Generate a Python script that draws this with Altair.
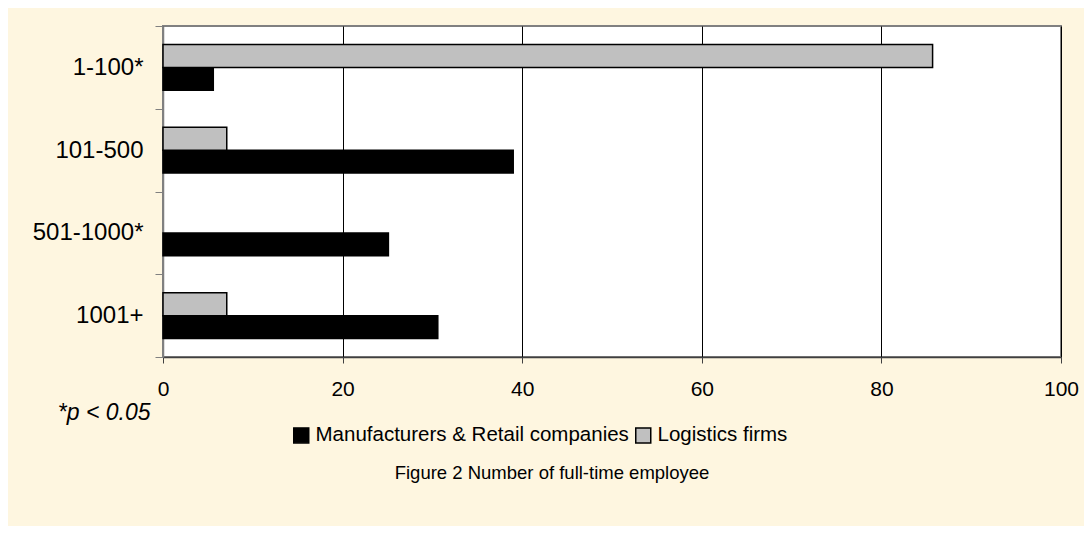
import altair as alt
import pandas as pd

categories = ["1-100*", "101-500", "501-1000*", "1001+"]
series = ["Manufacturers & Retail companies", "Logistics firms"]
manufacturers = [5.6, 39.0, 25.1, 30.6]
logistics = [85.7, 7.1, 0.0, 7.1]
x_ticks = [0, 20, 40, 60, 80, 100]

rows = []
for c, m, l in zip(categories, manufacturers, logistics):
    rows.append({"category": c, "series": series[0], "value": m})
    rows.append({"category": c, "series": series[1], "value": l})
df = pd.DataFrame(rows)

FONT = "Liberation Sans"

chart = (
    alt.Chart(df)
    .transform_filter("datum.value > 0")
    .mark_bar(stroke="black", strokeWidth=1.5)
    .encode(
        x=alt.X(
            "value:Q",
            scale=alt.Scale(domain=[0, 100], nice=False),
            axis=alt.Axis(
                values=x_ticks,
                title="*p < 0.05",
                titleFont=FONT,
                titleFontSize=23,
                titleFontStyle="italic",
                titleFontWeight="normal",
                titleColor="black",
                titleAlign="right",
                titleBaseline="middle",
                titleX=-13,
                titleY=55,
                labelFont=FONT,
                labelFontSize=21,
                labelColor="black",
                labelPadding=15,
                labelFlush=False,
                tickSize=6,
                tickColor="#404040",
                domainColor="#404040",
                domainWidth=1.5,
                grid=True,
                gridColor="black",
                gridWidth=1,
                gridOpacity=1,
            ),
        ),
        y=alt.Y(
            "category:N",
            sort=categories,
            scale=alt.Scale(paddingInner=0, paddingOuter=0),
            axis=alt.Axis(
                title=None,
                labelFont=FONT,
                labelFontSize=24,
                labelColor="black",
                labelPadding=12,
                tickBand="extent",
                tickSize=8,
                tickColor="#808080",
                domainColor="#808080",
                domainWidth=1.5,
                grid=False,
            ),
        ),
        yOffset=alt.YOffset(
            "series:N",
            sort=[series[1], series[0]],
            scale=alt.Scale(paddingInner=0, paddingOuter=0.8),
        ),
        color=alt.Color(
            "series:N",
            scale=alt.Scale(domain=series, range=["#000000", "#C0C0C0"]),
            legend=alt.Legend(
                title=None,
                orient="none",
                direction="horizontal",
                legendX=128,
                legendY=399,
                padding=0,
                symbolType="square",
                symbolSize=225,
                symbolStrokeColor="black",
                symbolStrokeWidth=1.5,
                labelFont=FONT,
                labelFontSize=20.5,
                labelColor="black",
                labelLimit=0,
                labelOffset=4,
                columnPadding=3,
            ),
        ),
    )
    .properties(
        width=898,
        height=331,
        background="#FEF6E0",
        padding={"left": 155, "top": 18, "right": 23, "bottom": 169},
        autosize=alt.AutoSizeParams(type="none"),
        title=alt.TitleParams(
            "Figure 2 Number of full-time employee",
            orient="bottom",
            font=FONT,
            fontSize=18.5,
            fontWeight="normal",
            color="black",
            dx=-60,
            offset=18,
        ),
    )
    .configure_view(fill="white", stroke="#808080", strokeWidth=2)
)

chart.save("out.html", embed_options={"renderer": "svg", "actions": False})
